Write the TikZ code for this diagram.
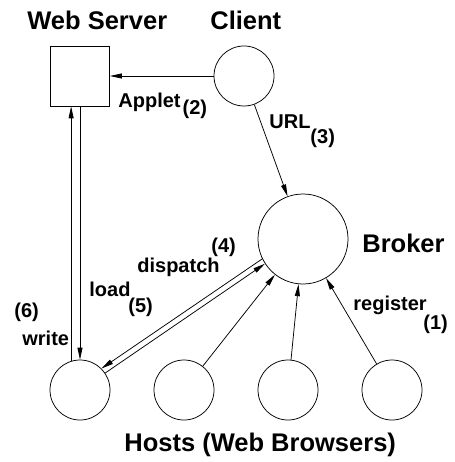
\documentclass[tikz,border=0pt]{standalone}
\usepackage{fontspec}
\setmainfont{Liberation Sans}
\usetikzlibrary{arrows.meta}
\begin{document}
\begin{tikzpicture}[x=1pt,y=-1pt,
  every path/.style={line width=0.75pt},
  arr/.style={-{Triangle[length=12pt,width=5pt]}},
  hostc/.style={draw,circle,minimum size=60pt,inner sep=0pt},
  title/.style={anchor=base west,inner sep=0pt,font=\fontsize{25.5}{28}\selectfont\bfseries},
  lbl/.style={anchor=base west,inner sep=0pt,font=\fontsize{20}{22}\selectfont\bfseries}]
\useasboundingbox (0,0) rectangle (454,462);

% components
\node[draw,minimum width=59pt,minimum height=60pt,inner sep=0pt] (server) at (80,76) {};
\node[hostc] (client) at (244,76) {};
\node[draw,circle,minimum size=90pt,inner sep=0pt] (broker) at (303,239) {};
\node[hostc] (h1) at (80,390) {};
\node[hostc] (h2) at (184,390) {};
\node[hostc] (h3) at (288,390) {};
\node[hostc] (h4) at (392,390) {};

% titles
\node[title] (tserver) at (27,29.3) {Web Server};
\node[title] (tclient) at (210,29.3) {Client};
\node[title] (tbroker) at (362,252) {Broker};
\node[title] (thosts) at (124,451.7) {Hosts (Web Browsers)};

% message flow
\draw[arr] (client) -- (client.west -| server.east);
\draw[arr] (client) -- (broker);
\draw[arr] (h1.107) -- (h1.107 |- server.south);
\draw[arr] (server.south) -- (h1.north);
\draw[arr] (broker.206) -- (h1.45);
\draw[arr] (h1.34) -- (broker.213);
\draw[arr] (h2) -- (broker);
\draw[arr] (h3) -- (broker);
\draw[arr] (h4) -- (broker);

% labels
\node[lbl] (lapplet) at (118,108) {Applet\hspace{2pt}\raisebox{-7pt}{(2)}};
\node[lbl] (lurl) at (269,128.5) {URL\raisebox{-15pt}{(3)}};
\node[lbl] (ldispatch) at (137,272) {dispatch};
\node[lbl] (n4) at (211,252) {(4)};
\node[lbl] (lload) at (89,296) {load};
\node[lbl] (n5) at (128,312) {(5)};
\node[lbl] (n6) at (14,317) {(6)};
\node[lbl] (lwrite) at (22,345) {write};
\node[lbl] (lregister) at (353,310) {register};
\node[lbl] (n1) at (423,329) {(1)};
\end{tikzpicture}
\end{document}
